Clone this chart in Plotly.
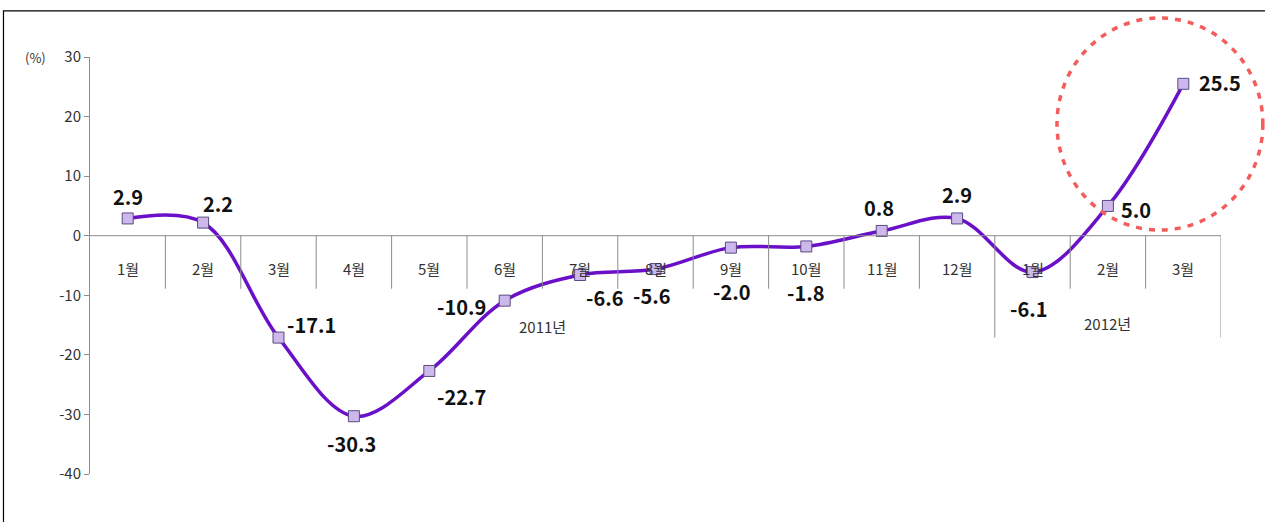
import plotly.graph_objects as go

months = ["1월", "2월", "3월", "4월", "5월", "6월", "7월", "8월", "9월", "10월", "11월", "12월", "1월", "2월", "3월"]
values = [2.9, 2.2, -17.1, -30.3, -22.7, -10.9, -6.6, -5.6, -2.0, -1.8, 0.8, 2.9, -6.1, 5.0, 25.5]
value_labels = ["2.9", "2.2", "-17.1", "-30.3", "-22.7", "-10.9", "-6.6", "-5.6", "-2.0", "-1.8", "0.8", "2.9", "-6.1", "5.0", "25.5"]
years = ["2011년", "2012년"]
year_centers = [5.5, 13]
y_ticks = [30, 20, 10, 0, -10, -20, -30, -40]
y_ticktext = ["30", "20", "10", "0", "-10", "-20", "-30", "-40"]

# label offsets in pixels (style)
label_shift = [(0, 22), (15, 19), (33, 13), (-2, -27), (32, -26), (-43, -6), (25, -22), (-4, -26),
               (1, -44), (0, -46), (-3, 23), (0, 24), (-4, -36), (28, -4), (37, 1)]

xs = list(range(len(months)))
FONT = "Noto Sans CJK KR"

fig = go.Figure()
fig.add_trace(go.Scatter(
    x=xs, y=values, mode="lines+markers",
    line=dict(color="#6A10C8", width=3.5, shape="spline", smoothing=1.0),
    marker=dict(symbol="square", size=11, color="#CDB8EC", line=dict(color="#5A4A80", width=1)),
    hoverinfo="skip", showlegend=False,
))

shapes = []
shapes.append(dict(type="line", xref="x", yref="y", x0=-0.5, x1=len(months) - 0.5, y0=0, y1=0,
                   line=dict(color="#8C8C8C", width=1)))
for i in range(1, len(months) + 1):
    yend = -8.9
    if i == 12 or i == len(months):
        yend = -17.1
    shapes.append(dict(type="line", xref="x", yref="y", x0=i - 0.5, x1=i - 0.5, y0=0, y1=yend,
                       line=dict(color="#8C8C8C", width=1)))
# red dashed circle (paper coords so it is not clipped)
shapes.append(dict(type="circle", xref="paper", yref="paper", x0=0.855, x1=1.037, y0=0.585, y1=1.0935,
                   line=dict(color="#F45B5B", width=3.5, dash="6px,7px")))
# outer border
shapes.append(dict(type="rect", xref="paper", yref="paper", x0=-0.0765, x1=1.2, y0=-0.3, y1=1.1105,
                   line=dict(color="#000000", width=1.2), layer="below"))

annotations = []
for i, (x, v, t) in enumerate(zip(xs, values, value_labels)):
    dx, dy = label_shift[i]
    annotations.append(dict(x=x, y=v, text=t, showarrow=False, xshift=dx, yshift=dy,
                            font=dict(family=FONT, size=20, color="#111111", weight="bold"),
                            xanchor="center", yanchor="middle"))
for i, m in enumerate(months):
    annotations.append(dict(x=i, y=-5.5, text=m, showarrow=False,
                            font=dict(family=FONT, size=15, color="#333333")))
for xc, yname, yy in zip(year_centers, years, [-15.2, -14.7]):
    annotations.append(dict(x=xc, y=yy, text=yname, showarrow=False,
                            font=dict(family=FONT, size=15, color="#333333")))
annotations.append(dict(xref="paper", yref="y", x=-0.048, y=30, text="(%)", showarrow=False,
                        font=dict(family=FONT, size=13, color="#333333"), xanchor="center"))

fig.update_layout(
    width=1265, height=522,
    margin=dict(l=90, r=44, t=57, b=48),
    paper_bgcolor="white", plot_bgcolor="white",
    shapes=shapes, annotations=annotations,
    xaxis=dict(range=[-0.5, len(months) - 0.5], visible=False, showgrid=False, zeroline=False),
    yaxis=dict(range=[-40, 30], tickvals=y_ticks, ticktext=y_ticktext, showgrid=False, zeroline=False,
               showline=True, linecolor="#8C8C8C", linewidth=1, ticks="outside", ticklen=5,
               tickcolor="#8C8C8C", tickfont=dict(family=FONT, size=15, color="#333333")),
)
fig.write_html("out.html", config={"displayModeBar": False},
               post_script="document.body.style.margin='0';document.body.style.overflow='hidden';")
